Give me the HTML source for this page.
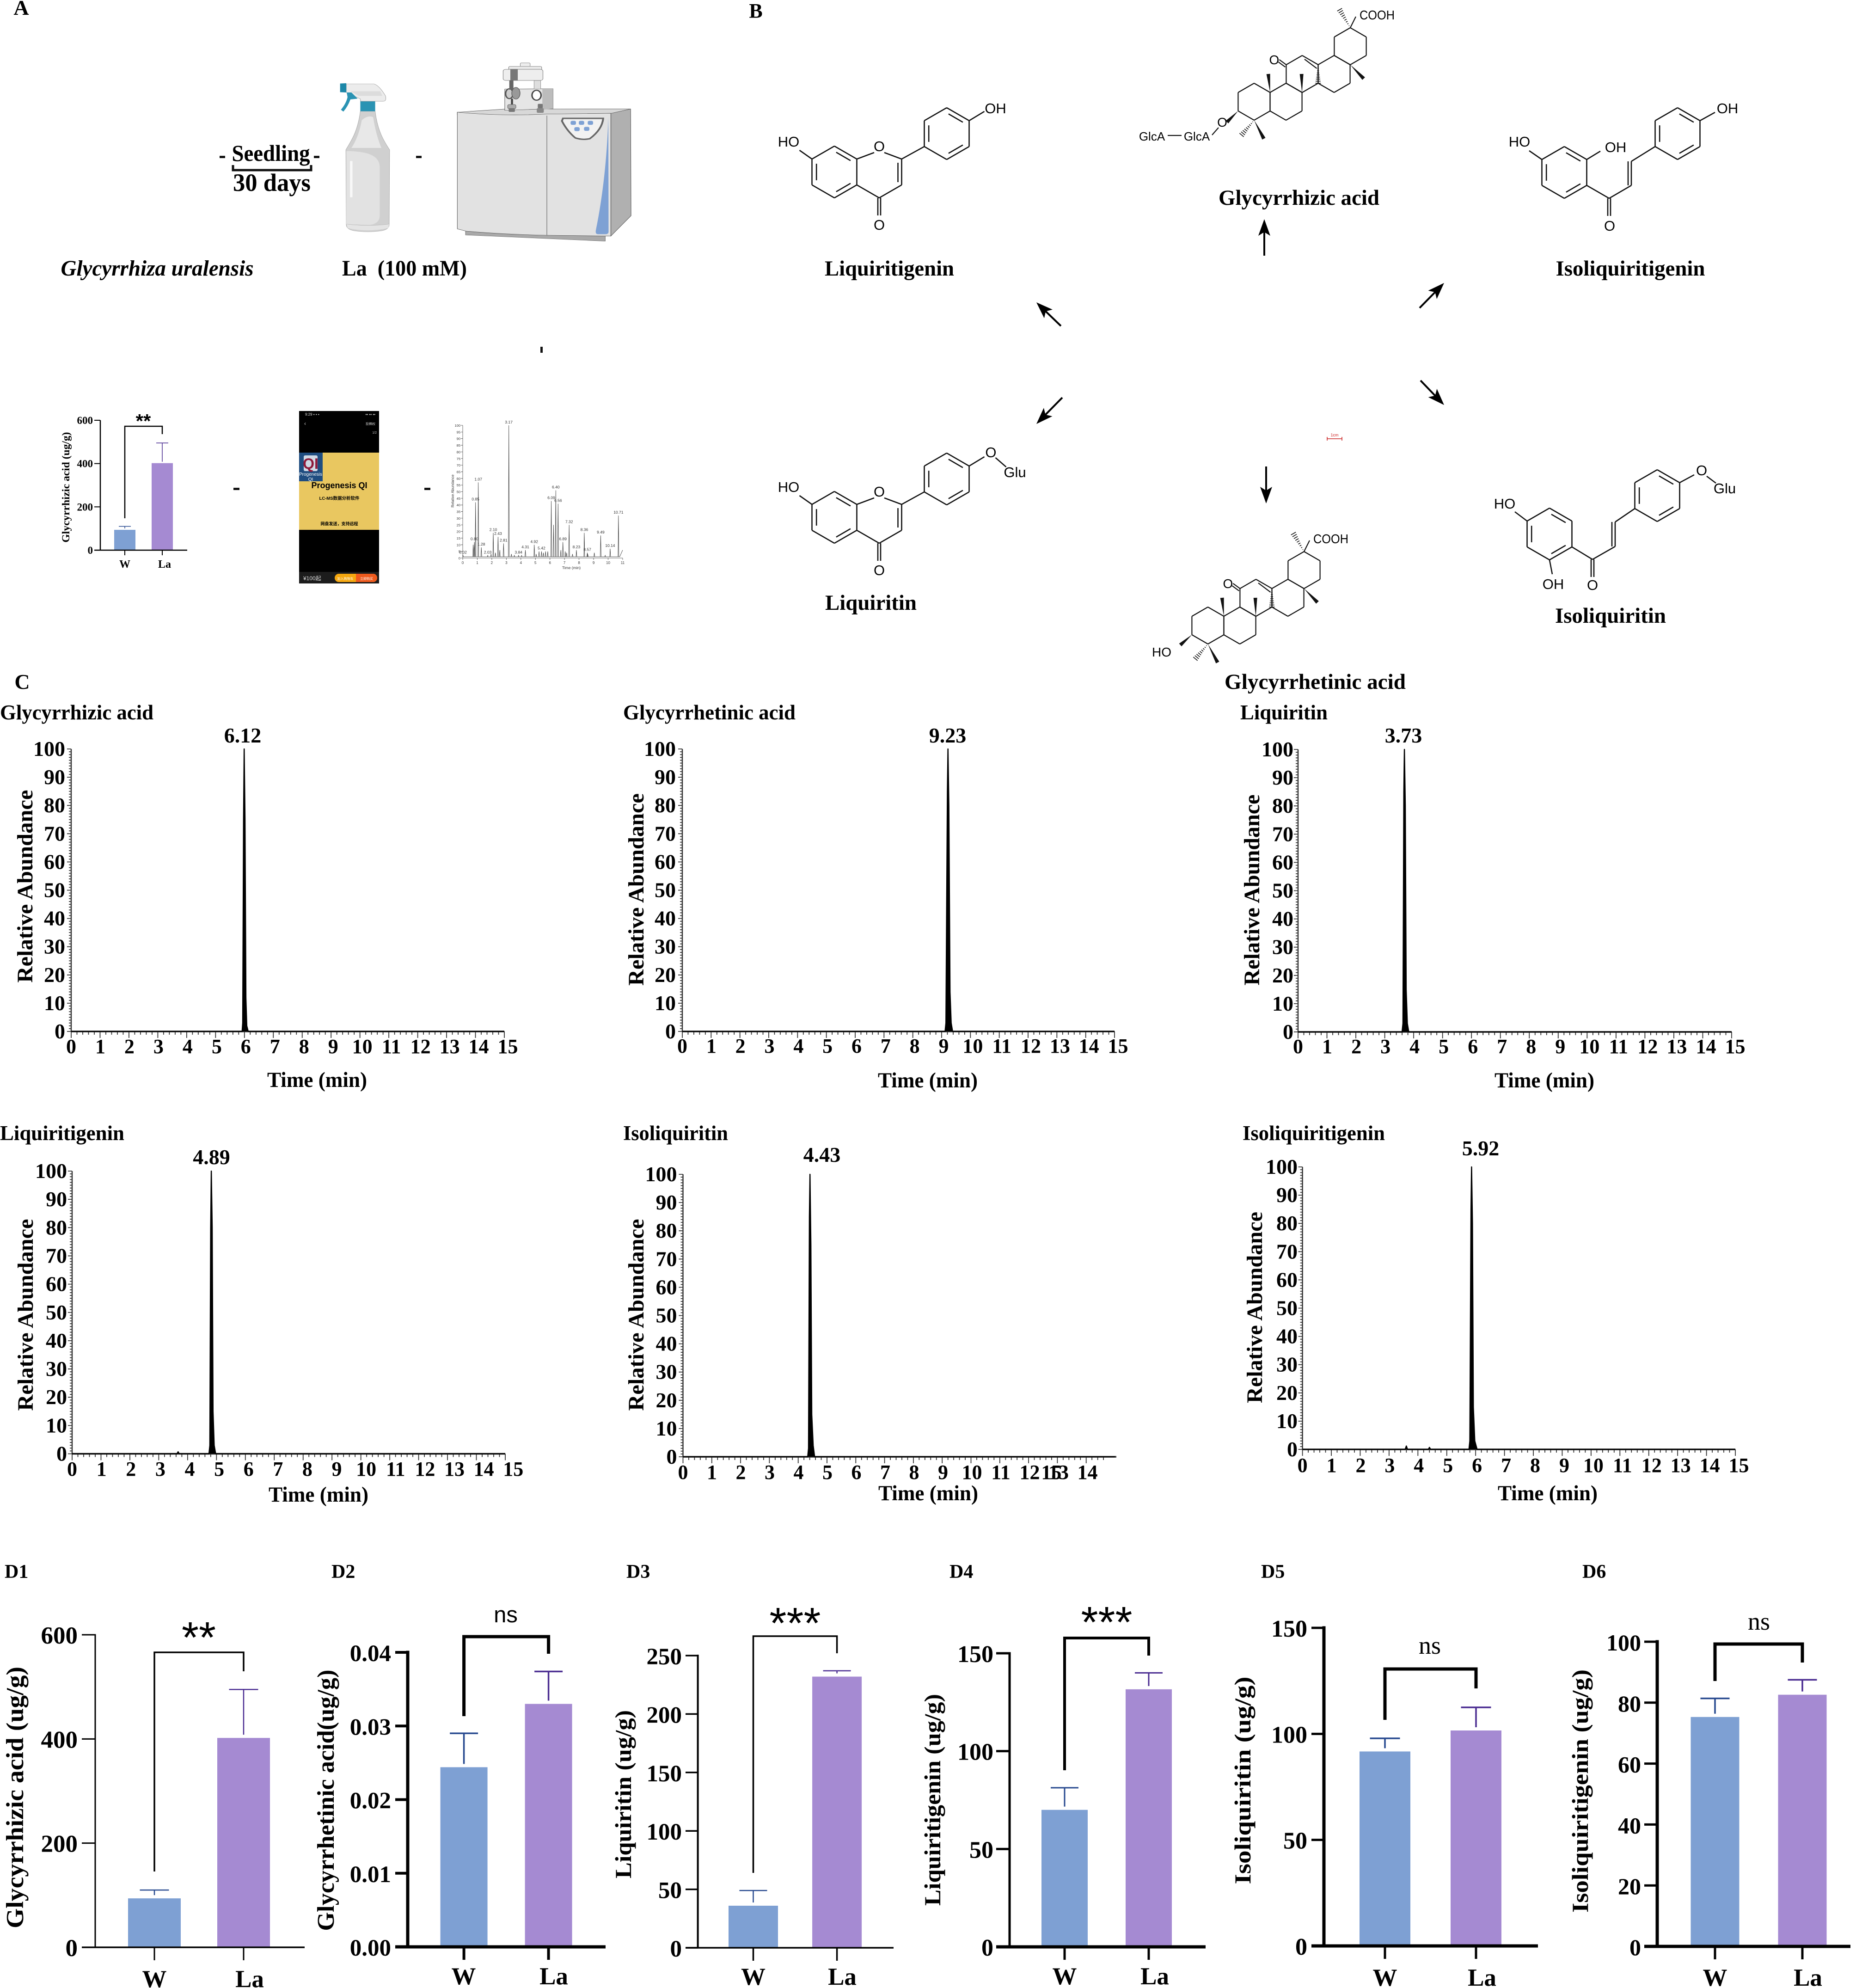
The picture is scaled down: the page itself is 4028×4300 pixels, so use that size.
<!DOCTYPE html>
<html lang="en">
<head>
<meta charset="utf-8">
<title>Glycyrrhiza uralensis figure</title>
<style>
html,body{margin:0;padding:0;background:#fff;}
svg{display:block;}
text{font-family:"Liberation Serif","Noto Serif CJK SC",serif;fill:#000;}
.sans{font-family:"Liberation Sans","Noto Sans CJK SC",sans-serif;}
</style>
</head>
<body>
<svg id="fig" xmlns="http://www.w3.org/2000/svg" width="4028" height="4300" viewBox="0 0 4028 4300">
<rect width="4028" height="4300" fill="#fff"/>

<g transform="translate(700,120) scale(.4464,.3333)">
  <path d="M108 612 C130 560 165 500 178 362 L250 362 C262 500 300 570 320 612 L318 1100 Q316 1130 280 1138 Q215 1150 150 1138 Q112 1130 110 1100 Z" fill="#d0d0d0" stroke="#a8a8a8" stroke-width="2"/>
  <path d="M135 600 C165 540 178 470 185 420 Q215 385 240 400 C250 480 262 540 280 600 Z" fill="#e8e8e8"/>
  <path d="M110 620 C200 622 268 640 272 720 L272 1040 Q272 1090 225 1100 L110 1095 Z" fill="#e2e2e2"/>
  <rect x="128" y="685" width="12" height="235" fill="#f8f8f8"/>
  <path d="M112 1095 Q215 1112 318 1095" fill="none" stroke="#aaa" stroke-width="3"/>
  <path d="M112 1095 Q215 1112 318 1095 L314 1120 Q215 1150 116 1120 Z" fill="#e4e4e4"/>
  <rect x="178" y="292" width="72" height="70" fill="#2a93b3"/>
  <path d="M110 185 L245 185 Q270 195 300 262 Q306 296 290 297 L180 297 L178 282 L110 240 Z" fill="#ececec" stroke="#999" stroke-width="2"/>
  <path d="M130 232 L275 232 L285 262 L170 262 Z" fill="#dcdcdc"/>
  <path d="M80 182 L110 180 L110 240 L80 238 Z" fill="#1c87a8"/>
  <path d="M112 240 L135 240 L165 280 L130 285 Q118 330 96 364 L84 352 Q110 310 116 270 Z" fill="#2a93b3"/>
</g>
<rect x="900" y="337" width="12" height="5" fill="#111"/>

<g transform="translate(700,120) scale(.4464,.3333)">
  <path d="M688 1140 L1365 1170 L1365 1205 L688 1165 Z" fill="#a9a9a9" stroke="#666" stroke-width="2"/>
  <path d="M1392 375 L1488 347 L1490 1040 L1392 1172 Z" fill="#b0b0b0" stroke="#444" stroke-width="2"/>
  <path d="M648 368 L875 348 L1488 347 L1392 376 L1080 385 L648 385 Z" fill="#d8d8d8" stroke="#444" stroke-width="2"/>
  <path d="M648 368 Q860 395 1082 380 L1392 375 L1392 1172 L1082 1167 Q860 1160 690 1140 L648 1125 Z" fill="#e2e2e2" stroke="#444" stroke-width="2"/>
  <line x1="1082" y1="390" x2="1082" y2="1167" stroke="#777" stroke-width="3"/>
  <path d="M1380 400 L1381 1145 Q1380 1160 1365 1160 L1330 1160 Q1315 1160 1320 1130 Q1370 800 1380 400 Z" fill="#7ea1d4"/>
  <path d="M1160 408 L1355 408 Q1350 480 1290 540 Q1255 550 1220 535 Q1180 490 1155 425 Z" fill="#f2f2f2" stroke="#666" stroke-width="9"/>
  <g fill="#7ea1d4"><rect x="1197" y="424" width="26" height="26" rx="8"/><rect x="1237" y="424" width="26" height="26" rx="8"/><rect x="1280" y="424" width="26" height="26" rx="8"/><rect x="1215" y="465" width="26" height="26" rx="8"/><rect x="1262" y="463" width="26" height="26" rx="8"/></g>
  <path d="M878 218 L1060 216 L1112 216 L1112 345 L878 356 Z" fill="#e6e6e6" stroke="#444" stroke-width="2"/>
  <path d="M1060 216 L1112 216 L1112 345 L1060 352 Z" fill="#bcbcbc"/>
  <rect x="1020" y="162" width="32" height="55" fill="#dedede" stroke="#888" stroke-width="2"/>
  <ellipse cx="1032" cy="258" rx="22" ry="32" fill="#fff" stroke="#444" stroke-width="7"/>
  <ellipse cx="900" cy="248" rx="18" ry="32" fill="#ccc" stroke="#555" stroke-width="7"/>
  <ellipse cx="932" cy="245" rx="20" ry="38" fill="#999" stroke="#555" stroke-width="3"/>
  <rect x="953" y="48" width="48" height="24" rx="6" fill="#eee" stroke="#777" stroke-width="2"/>
  <rect x="897" y="70" width="160" height="32" rx="8" fill="#e8e8e8" stroke="#666" stroke-width="2"/>
  <rect x="870" y="90" width="193" height="72" rx="12" fill="#eee" stroke="#666" stroke-width="2"/>
  <rect x="905" y="88" width="36" height="74" fill="#777"/>
  <rect x="900" y="162" width="20" height="60" fill="#666"/>
  <rect x="908" y="280" width="10" height="40" fill="#444"/>
  <rect x="892" y="318" width="40" height="28" rx="8" fill="#aaa" stroke="#555" stroke-width="2"/>
  <rect x="897" y="342" width="30" height="24" rx="5" fill="#777"/>
  <rect x="1038" y="314" width="24" height="28" rx="5" fill="#777"/>
  <rect x="1033" y="342" width="34" height="30" rx="6" fill="#888"/>
</g>

<g>
  <rect x="647" y="889" width="173" height="373" fill="#000"/>
  <rect x="647" y="979" width="173" height="167" fill="#e9c760"/>
  <rect x="647" y="979" width="51" height="62" fill="#1f4d80"/>
  <rect x="657" y="985" width="30" height="34" rx="3" fill="#cfd9e5"/>
  <text x="672" y="1014" font-size="32" text-anchor="middle" font-weight="bold" style="fill:#8e1a3a" class="sans">QI</text>
  <text x="672" y="1029" font-size="10" text-anchor="middle" style="fill:#fff" class="sans">Progenesis</text>
  <text x="672" y="1040" font-size="10" text-anchor="middle" style="fill:#fff" class="sans">QI</text>
  <text x="734" y="1056" font-size="18" text-anchor="middle" font-weight="bold" class="sans">Progenesis QI</text>
  <text x="734" y="1081" font-size="9.5" text-anchor="middle" font-weight="bold" class="sans">LC-MS数据分析软件</text>
  <text x="734" y="1136" font-size="9" text-anchor="middle" font-weight="bold" class="sans">网盘发送，支持远程</text>
  <text x="660" y="899" font-size="8" style="fill:#ddd" class="sans">9:29 ▪ ▪ ▪</text>
  <text x="812" y="899" font-size="8" text-anchor="end" style="fill:#ddd" class="sans">▪▪ ▪▪ ▪▪</text>
  <text x="812" y="919" font-size="7" text-anchor="end" style="fill:#ccc" class="sans">投稿权</text>
  <text x="658" y="920" font-size="12" style="fill:#ccc" class="sans">‹</text>
  <text x="815" y="938" font-size="7" text-anchor="end" style="fill:#ccc" class="sans">1/2</text>
  <rect x="647" y="1237" width="173" height="25" fill="#1c1c1c"/>
  <text x="656" y="1255" font-size="12" style="fill:#ddd" class="sans">¥100起</text>
  <rect x="724" y="1241" width="92" height="18" rx="9" fill="#f5a70f"/>
  <path d="M770 1241 L807 1241 A9 9 0 0 1 807 1259 L770 1259 Z" fill="#ee5a1d"/>
  <text x="747" y="1254" font-size="7" text-anchor="middle" style="fill:#fff" class="sans">加入购物车</text>
  <text x="793" y="1254" font-size="7" text-anchor="middle" style="fill:#fff" class="sans">立即购买</text>
</g>

<g fill="#111">
  <rect x="475" y="337" width="12" height="5"/><rect x="679" y="337" width="12" height="5"/>
  <rect x="1169" y="750" width="5" height="13"/>
  <rect x="505" y="1055" width="13" height="5"/><rect x="918" y="1055" width="13" height="5"/>
</g>
<path d="M504 357 L504 368 L673 368 L673 357" fill="none" stroke="#111" stroke-width="5"/>

<text x="46" y="32" font-size="46" font-weight="bold" text-anchor="middle">A</text>
<text x="1635" y="38" font-size="44" font-weight="bold" text-anchor="middle">B</text>
<text x="48" y="1490" font-size="46" font-weight="bold" text-anchor="middle">C</text>
<text x="586" y="348" font-size="50" font-weight="bold" text-anchor="middle" textLength="169" lengthAdjust="spacingAndGlyphs">Seedling</text>
<text x="588" y="413" font-size="54" font-weight="bold" text-anchor="middle" textLength="168" lengthAdjust="spacingAndGlyphs">30 days</text>
<text x="340" y="596" font-size="48" font-weight="bold" font-style="italic" text-anchor="middle" textLength="417" lengthAdjust="spacingAndGlyphs">Glycyrrhiza uralensis</text>
<text x="875" y="596" font-size="48" font-weight="bold" text-anchor="middle" textLength="270" lengthAdjust="spacingAndGlyphs">La&#160;&#160;(100 mM)</text>

<g id="structures"></g>
<g id="charts"></g>
</svg>

<script>
// ---- Chromatogram data (panel C) ----
const chromXLabels = ['0','1','2','3','4','5','6','7','8','9','10','11','12','13','14','15'];
const chromXValues = [0,1,2,3,4,5,6,7,8,9,10,11,12,13,14,15];
const chromYTicks = [0,10,20,30,40,50,60,70,80,90,100];
const c5XValues = [0,1,2,3,4,5,6,7,8,9,10,11,12,13,14,12.75];

const c1Times = [0,5.92,5.94,5.97,5.99,6.02,6.05,6.08,6.13,15];
const c1Abundance = [0,0,3,75,100,75,12,2,0,0];
const c2Times = [0,9.12,9.15,9.2,9.22,9.25,9.29,9.33,9.38,15];
const c2Abundance = [0,0,3,85,100,80,14,3,0,0];
const c3Times = [0,3.6,3.63,3.66,3.68,3.71,3.74,3.78,3.83,15];
const c3Abundance = [0,0,3,85,100,80,15,3,0,0];
const c4Times = [0,3.63,3.67,3.71,4.74,4.77,4.8,4.82,4.85,4.88,4.92,4.97,15];
const c4Abundance = [0,0,0.7,0,0,3,80,100,80,15,3,0,0];
const c5Times = [0,4.33,4.36,4.39,4.41,4.44,4.47,4.52,4.57,15];
const c5Abundance = [0,0,3,85,100,75,15,4,0,0];
const c6Times = [0,3.56,3.6,3.64,4.36,4.4,4.44,5.77,5.8,5.84,5.86,5.89,5.92,5.97,6.05,15];
const c6Abundance = [0,0,1.2,0,0,0.7,0,0,3,85,100,80,15,3,0,0];

// ---- Bar chart data (panel D) ----
const barCategories = ['W','La'];
const d1Means = [94,402];
const d1Upper = [110,495];
const d1Ticks = [0,200,400,600];
const d1TickLabels = ['0','200','400','600'];
const d2Means = [0.0244,0.0330];
const d2Upper = [0.0290,0.0374];
const d2Ticks = [0,0.01,0.02,0.03,0.04];
const d2TickLabels = ['0.00','0.01','0.02','0.03','0.04'];
const d3Means = [36,232];
const d3Upper = [49,237];
const d3Ticks = [0,50,100,150,200,250];
const d3TickLabels = ['0','50','100','150','200','250'];
const d4Means = [70,131.6];
const d4Upper = [81.3,140];
const d4Ticks = [0,50,100,150];
const d4TickLabels = ['0','50','100','150'];
const d5Means = [91.7,101.6];
const d5Upper = [97.9,112.5];
const d5Ticks = [0,50,100,150];
const d5TickLabels = ['0','50','100','150'];
const d6Means = [75.3,82.6];
const d6Upper = [81.4,87.5];
const d6Ticks = [0,20,40,60,80,100];
const d6TickLabels = ['0','20','40','60','80','100'];

// ---- Mini chromatogram data (panel A) ----
const miniLabels = ['0.02','0.80','0.85','1.07','1.28','2.03','2.10','2.43','2.81','3.17','3.84','4.31','4.92','5.42','6.09','6.40','6.56','6.89','7.32','8.23','8.36','8.57','9.49','10.14','10.71'];
const miniTimes = [0.02,0.80,0.88,1.07,1.28,1.72,2.10,2.43,2.81,3.17,3.84,4.31,4.92,5.42,6.09,6.40,6.56,6.89,7.32,7.82,8.36,8.57,9.49,10.14,10.71];
const miniHeights = [2,12,42,57,8,2,19,16,11,100,2,6,10,5,43,51,41,12,25,6,19,4,17,7,32];
const miniSmallTimes = [0.72,1.95,2.25,2.55,3.35,3.55,4.05,5.05,5.25,5.55,5.7,5.85,6.25,6.75,7.05,7.15,7.55,8.6,9.05,9.8];
const miniSmallHeights = [10,3,4,6,3,2,2,3,5,4,5,5,25,6,5,4,3,3,4,2];
const miniYTicks = [0,5,10,15,20,25,30,35,40,45,50,55,60,65,70,75,80,85,90,95,100];
const miniXTicks = [0,1,2,3,4,5,6,7,8,9,10,11];

const NS = 'http://www.w3.org/2000/svg';
const chartsRoot = document.getElementById('charts');
const structRoot = document.getElementById('structures');

function mk(tag, name, attrs, parent) {
  const el = document.createElementNS(NS, tag);
  
  
  for (const k in attrs) el.setAttribute(k, attrs[k]);
  parent.appendChild(el);
  return el;
}
function txt(name, str, x, y, fs, parent, o) {
  o = o || {};
  const a = {x: x, y: y, 'font-size': fs, 'text-anchor': o.anchor || 'middle'};
  a['font-weight'] = o.weight || 'bold';
  if (o.sans) a['class'] = 'sans';
  if (o.tl) { a.textLength = o.tl; a.lengthAdjust = 'spacingAndGlyphs'; }
  if (o.rot) a.transform = 'rotate(' + o.rot + ' ' + x + ' ' + y + ')';
  if (o.fill) a.style = 'fill:' + o.fill;
  const t = mk('text', name, a, parent);
  t.textContent = str;
  return t;
}
function pth(name, d, w, parent, color, fill) {
  return mk('path', name, {d: d, fill: fill || 'none', stroke: color || '#111', 'stroke-width': w}, parent);
}

// ---- Panel C ----
function chromatogram(c) {
  const g = mk('g', 'chromatogram-' + c.id, {}, chartsRoot);
  const X = t => c.x0 + (c.x15 - c.x0) * t / 15;
  const Y = v => c.y0 + (c.y100 - c.y0) * v / 100;
  let ticks = '';
  const end = c.tickEnd === undefined ? 15 : c.tickEnd;
  for (let i = 0; i <= Math.round(end * 5); i++) {
    const t = i / 5;
    ticks += 'M' + X(t) + ' ' + c.y0 + 'V' + (c.y0 + (i % 5 === 0 ? 14 : 7));
  }
  for (let v = 0; v <= 100; v++) {
    ticks += 'M' + c.x0 + ' ' + Y(v) + 'H' + (c.x0 - (v % 10 === 0 ? 9 : 5));
  }
  pth('axis-ticks', ticks, 1.8, g, '#333');
  pth('y-axis', 'M' + c.x0 + ' ' + c.y100 + 'V' + c.y0, 2.5, g, '#333');
  pth('x-axis', 'M' + c.x0 + ' ' + c.y0 + 'H' + (c.axisEnd || c.x15), 3.5, g, '#333');
  const pts = c.times.map((t, i) => X(t).toFixed(1) + ',' + Y(c.abundance[i]).toFixed(1)).join(' ');
  mk('polyline', 'peak-trace', {points: pts, fill: '#000', stroke: '#000', 'stroke-width': 2.5, 'stroke-linejoin': 'round'}, g);
  chromYTicks.forEach(v => {
    txt('y-tick-label', String(v), c.yLabelRight, Y(v) + 15, 46, g, {anchor: 'end'});
  });
  c.xValues.forEach((t, i) => {
    txt('x-tick-label', chromXLabels[i], X(t) + t * c.drift, c.xLabelBase, 44, g);
  });
  txt('peak-label', c.peak, c.peakX, c.peakBase, 46, g);
  txt('chart-title', c.title, c.titleX, c.titleBase, 45, g, {anchor: 'start', tl: c.titleW});
  txt('x-axis-title', 'Time (min)', c.timeX, c.timeBase, 47, g, {tl: 216});
  txt('y-axis-title', 'Relative Abundance', c.yTitleX + 19, c.yTitleY, 48, g, {rot: -90, tl: c.yTitleW});
}
chromatogram({id:'glycyrrhizic-acid',title:'Glycyrrhizic acid',peak:'6.12',times:c1Times,abundance:c1Abundance,xValues:chromXValues,x0:154,x15:1091,y100:1620,y0:2231,drift:.5,xLabelBase:2278,peakX:525,peakBase:1606,titleX:0,titleBase:1556,titleW:332,timeX:686,timeBase:2351,yLabelRight:141,yTitleX:51,yTitleY:1917,yTitleW:417});
chromatogram({id:'glycyrrhetinic-acid',title:'Glycyrrhetinic acid',peak:'9.23',times:c2Times,abundance:c2Abundance,xValues:chromXValues,x0:1476,x15:2411,y100:1620,y0:2231,drift:.5,xLabelBase:2277,peakX:2050,peakBase:1606,titleX:1348,titleBase:1556,titleW:373,timeX:2007,timeBase:2352,yLabelRight:1462,yTitleX:1373,yTitleY:1924,yTitleW:416});
chromatogram({id:'liquiritin',title:'Liquiritin',peak:'3.73',times:c3Times,abundance:c3Abundance,xValues:chromXValues,x0:2808,x15:3746,y100:1621,y0:2232,drift:.5,xLabelBase:2278,peakX:3036,peakBase:1606,titleX:2683,titleBase:1556,titleW:189,timeX:3341,timeBase:2352,yLabelRight:2798,yTitleX:2705,yTitleY:1925,yTitleW:413});
chromatogram({id:'liquiritigenin',title:'Liquiritigenin',peak:'4.89',times:c4Times,abundance:c4Abundance,xValues:chromXValues,x0:156,x15:1093,y100:2533,y0:3144.5,drift:1.15,xLabelBase:3192,peakX:457.5,peakBase:2518,titleX:0,titleBase:2466,titleW:269,timeX:689,timeBase:3248,yLabelRight:145,yTitleX:52,yTitleY:2844,yTitleW:415});
chromatogram({id:'isoliquiritin',title:'Isoliquiritin',peak:'4.43',times:c5Times,abundance:c5Abundance,xValues:c5XValues,x0:1477.5,x15:2412,tickEnd:14.5,axisEnd:2415,y100:2540,y0:3151,drift:.2,xLabelBase:3199,peakX:1778,peakBase:2513,titleX:1348,titleBase:2466,titleW:227,timeX:2008,timeBase:3245,yLabelRight:1464.5,yTitleX:1373,yTitleY:2844,yTitleW:415});
chromatogram({id:'isoliquiritigenin',title:'Isoliquiritigenin',peak:'5.92',times:c6Times,abundance:c6Abundance,xValues:chromXValues,x0:2817.6,x15:3754,y100:2524,y0:3135,drift:.5,xLabelBase:3184,peakX:3203,peakBase:2499,titleX:2688,titleBase:2466,titleW:308,timeX:3348,timeBase:3245,yLabelRight:2807,yTitleX:2711,yTitleY:2828,yTitleW:414});

// ---- Panel D ----
function barChart(c) {
  const g = mk('g', 'bar-chart-' + c.id, {}, chartsRoot);
  const Y = v => c.y0 + (c.yTop - c.y0) * v / c.ticks[c.ticks.length - 1];
  const X = i => c.cx[0] + (c.cx[1] - c.cx[0]) * i;
  const colors = ['#7ea0d3', '#a58ad2'];
  const errCol = ['#27498f', '#4a2c91'];
  barCategories.forEach((cat, i) => {
    const top = Y(c.means[i]);
    mk('rect', 'bar-' + cat.toLowerCase(), {x: X(i) - c.barW / 2, y: top, width: c.barW, height: c.y0 - top, fill: colors[i]}, g);
    const capY = Y(c.upper[i]);
    pth('error-bar-' + cat.toLowerCase(), 'M' + (X(i) - c.capW / 2) + ' ' + capY + 'H' + (X(i) + c.capW / 2) + 'M' + X(i) + ' ' + capY + 'V' + Math.max(capY, top - 7), c.errW, g, errCol[i]);
    pth('x-tick', 'M' + X(i) + ' ' + c.y0 + 'V' + (c.y0 + 28), c.tickW, g, '#000');
    txt('x-tick-label', cat, c.xLabelX[i], c.xLabelBase, c.xLabelFs || 53, g);
  });
  pth('y-axis', 'M' + c.axisX + ' ' + (c.yTop - c.axisW / 2) + 'V' + c.y0, c.axisW, g, '#000');
  pth('x-axis', 'M' + c.tickLeft + ' ' + c.y0 + 'H' + c.right, c.xAxisW, g, '#000');
  c.ticks.forEach((v, i) => {
    pth('y-tick', 'M' + c.tickLeft + ' ' + Y(v) + 'H' + c.axisX, c.tickW, g, '#000');
    txt('y-tick-label', c.tickLabels[i], c.labelRight, Y(v) + 19, c.labelFs, g, {anchor: 'end'});
  });
  pth('significance-bracket', 'M' + c.br[0] + ' ' + c.br[3] + 'V' + c.br[2] + 'H' + c.br[1] + 'V' + c.br[4], c.brW, g, '#000');
  if (c.stars) {
    txt('significance-stars', c.stars, c.sigX, c.sigY + 45, 95, g, {sans: true, weight: 'normal'});
  } else {
    txt('significance-ns', 'ns', c.sigX, c.sigY, c.nsFs || 49, g, {sans: c.nsSans, weight: 'normal'});
  }
  txt('y-axis-title', c.yTitle, c.titleX + 19, c.titleY, c.titleFs || 52, g, {rot: -90, tl: c.titleL});
  txt('panel-label', c.panel, c.panelX, 3413, 42, g, {anchor: 'start'});
}
barChart({id:'d1',panel:'D1',panelX:10,means:d1Means,upper:d1Upper,ticks:d1Ticks,tickLabels:d1TickLabels,y0:4212,yTop:3536,axisX:206,right:659,tickLeft:177,cx:[334,527],barW:114,capW:63,errW:2.5,tickW:3,axisW:3,xAxisW:3.5,labelRight:168,labelFs:53,br:[334,527,3574,4048,3615],brW:3.5,stars:'**',sigX:430,sigY:3529,yTitle:'Glycyrrhizic acid (ug/g)',titleX:31,titleY:3888,titleL:566,titleFs:53,xLabelX:[334,540],xLabelBase:4298});
barChart({id:'d2',panel:'D2',panelX:717,means:d2Means,upper:d2Upper,ticks:d2Ticks,tickLabels:d2TickLabels,y0:4211,yTop:3574,axisX:882,right:1310,tickLeft:855,cx:[1003.6,1186.6],barW:102,capW:61,errW:3.5,tickW:6,axisW:7,xAxisW:7,labelRight:846,labelFs:51,br:[1003.6,1186.6,3540,3712,3577],brW:7,nsSans:true,sigX:1094,sigY:3509,yTitle:'Glycyrrhetinic acid(ug/g)',titleX:703,titleY:3894,titleL:565,xLabelX:[1003,1198],xLabelBase:4292});
barChart({id:'d3',panel:'D3',panelX:1355,means:d3Means,upper:d3Upper,ticks:d3Ticks,tickLabels:d3TickLabels,y0:4213,yTop:3581,axisX:1509.6,right:1933,tickLeft:1483,cx:[1629.5,1810.6],barW:107,capW:60,errW:2.5,tickW:3.5,axisW:4,xAxisW:3.5,labelRight:1475,labelFs:51,br:[1629.5,1810.6,3539,4051,3576],brW:3.5,stars:'***',sigX:1720,sigY:3498,yTitle:'Liquiritin (ug/g)',titleX:1346,titleY:3881,titleL:364,titleFs:50,xLabelX:[1629.5,1822],xLabelBase:4293});
barChart({id:'d4',panel:'D4',panelX:2054,means:d4Means,upper:d4Upper,ticks:d4Ticks,tickLabels:d4TickLabels,y0:4211,yTop:3576,axisX:2184,right:2608,tickLeft:2155,cx:[2303,2485],barW:100,capW:60,errW:3,tickW:5,axisW:5,xAxisW:7,labelRight:2149,labelFs:52,br:[2303,2485,3543,3829,3581],brW:6,stars:'***',sigX:2394,sigY:3496,yTitle:'Liquiritigenin (ug/g)',titleX:2015,titleY:3893,titleL:458,titleFs:50,xLabelX:[2303,2498],xLabelBase:4292});
barChart({id:'d5',panel:'D5',panelX:2728,means:d5Means,upper:d5Upper,ticks:d5Ticks,tickLabels:d5TickLabels,y0:4209,yTop:3521,axisX:2864,right:3327,tickLeft:2837,cx:[2996,3193],barW:110,capW:65,errW:3.5,tickW:5,axisW:7,xAxisW:7,labelRight:2828,labelFs:52,br:[2996,3193,3610,3720,3652],brW:7,nsFs:54,sigX:3093,sigY:3577,yTitle:'Isoliquiritin (ug/g)',titleX:2686,titleY:3851,titleL:449,titleFs:50,xLabelX:[2996,3206],xLabelBase:4295});
barChart({id:'d6',panel:'D6',panelX:3423,means:d6Means,upper:d6Upper,ticks:d6Ticks,tickLabels:d6TickLabels,y0:4210,yTop:3551,axisX:3585,right:4003,tickLeft:3557,cx:[3710,3899],barW:105,capW:63,errW:3.5,tickW:5,axisW:7,xAxisW:7,labelRight:3550,labelFs:50,br:[3710,3899,3556,3636,3596],brW:7,nsFs:54,sigX:3805,sigY:3525,yTitle:'Isoliquiritigenin (ug/g)',titleX:3416,titleY:3874,titleL:526,titleFs:50,xLabelX:[3710,3911],xLabelBase:4295});

// ---- Panel A mini bar chart ----
(function () {
  const g = mk('g', 'mini-bar-chart', {}, chartsRoot);
  const Y = v => 1190 + (909 - 1190) * v / 600;
  const cx = [270, 351];
  const colors = ['#7ea0d3', '#a58ad2'];
  const errCol = ['#27498f', '#4a2c91'];
  barCategories.forEach((cat, i) => {
    const top = Y(d1Means[i]);
    mk('rect', 'mini-bar-' + cat.toLowerCase(), {x: cx[i] - 23, y: top, width: 46, height: 1190 - top, fill: colors[i]}, g);
    pth('mini-error-bar', 'M' + (cx[i] - 13) + ' ' + Y(d1Upper[i]) + 'H' + (cx[i] + 13) + 'M' + cx[i] + ' ' + Y(d1Upper[i]) + 'V' + (top - 3), 1.5, g, errCol[i]);
    pth('mini-x-tick', 'M' + cx[i] + ' 1190V1201', 2, g, '#000');
  });
  txt('mini-x-label', 'W', 270, 1228, 24, g);
  txt('mini-x-label', 'La', 356, 1228, 24, g);
  pth('mini-y-axis', 'M217 909V1190', 2.5, g, '#000');
  pth('mini-x-axis', 'M204 1190H405', 2.5, g, '#000');
  d1Ticks.forEach((v, i) => {
    pth('mini-y-tick', 'M204 ' + Y(v) + 'H217', 2, g, '#000');
    txt('mini-y-label', d1TickLabels[i], 201, Y(v) + 8, 23, g, {anchor: 'end'});
  });
  pth('mini-bracket', 'M270 1121V922H351V939', 2.5, g, '#000');
  txt('mini-stars', '**', 310, 925, 42, g, {sans: true});
  txt('mini-y-title', 'Glycyrrhizic acid (ug/g)', 150, 1054, 23, g, {rot: -90, tl: 239});
})();

// ---- Panel A mini chromatogram ----
(function () {
  const g = mk('g', 'mini-chromatogram', {}, chartsRoot);
  const X = t => 1001 + t * 31.45;
  const Y = v => 1207 - v * 2.87;
  const peak = (t, h) => 'M' + X(t - 0.03) + ' ' + Y(1) + 'L' + X(t) + ' ' + Y(h) + 'L' + X(t + 0.03) + ' ' + Y(1);
  let d = 'M' + X(0) + ' ' + Y(1) + 'H' + X(10.8) + 'L' + X(11) + ' ' + Y(6);
  miniTimes.forEach((t, i) => { d += peak(t, miniHeights[i]); });
  miniSmallTimes.forEach((t, i) => { d += peak(t, miniSmallHeights[i]); });
  pth('mini-trace', d, 0.8, g, '#333');
  let ax = 'M' + X(0) + ' ' + Y(100) + 'V' + Y(0) + 'H' + X(11);
  miniYTicks.forEach(v => { ax += 'M' + X(0) + ' ' + Y(v) + 'h-4'; });
  miniXTicks.forEach(t => { ax += 'M' + X(t) + ' ' + Y(0) + 'v4'; });
  pth('mini-axes', ax, 0.8, g, '#444');
  miniYTicks.forEach(v => { txt('mini-y-label', String(v), X(0) - 5, Y(v) + 3, 7.5, g, {anchor: 'end', sans: true, weight: 'normal', fill: '#333'}); });
  miniXTicks.forEach(t => { txt('mini-x-label', String(t), X(t), Y(0) + 13, 8, g, {sans: true, weight: 'normal', fill: '#333'}); });
  miniLabels.forEach((l, i) => {
    txt('mini-peak-label', l, X(miniTimes[i]), Y(miniHeights[i]) - 4, 8.5, g, {sans: true, weight: 'normal', fill: '#333'});
  });
  txt('mini-y-title', 'Relative Abundance', 982, 1062, 8, g, {rot: -90, sans: true, weight: 'normal', fill: '#333'});
  txt('mini-x-title', 'Time (min)', 1236, 1231, 8.5, g, {sans: true, weight: 'normal', fill: '#333'});
})();

// ---- Panel B structures ----
function hexV(cx, cy, R) {
  const w = R * Math.sqrt(3) / 2;
  return {t:[cx,cy-R],ur:[cx+w,cy-R/2],lr:[cx+w,cy+R/2],b:[cx,cy+R],ll:[cx-w,cy+R/2],ul:[cx-w,cy-R/2],c:[cx,cy]};
}
function seg(a, b) { return 'M' + a[0].toFixed(1) + ' ' + a[1].toFixed(1) + 'L' + b[0].toFixed(1) + ' ' + b[1].toFixed(1); }
function inner(h, a, b) {
  const sh = (p, f) => [h.c[0] + (p[0] - h.c[0]) * f, h.c[1] + (p[1] - h.c[1]) * f];
  const A = sh(a, .8), B = sh(b, .8);
  const mA = [A[0] + (B[0] - A[0]) * .1, A[1] + (B[1] - A[1]) * .1];
  const mB = [B[0] + (A[0] - B[0]) * .1, B[1] + (A[1] - B[1]) * .1];
  return seg(mA, mB);
}
function ring(h) { return seg(h.t,h.ur)+seg(h.ur,h.lr)+seg(h.lr,h.b)+seg(h.b,h.ll)+seg(h.ll,h.ul)+seg(h.ul,h.t); }
function aromatic(h) { return ring(h)+inner(h,h.ul,h.ll)+inner(h,h.t,h.ur)+inner(h,h.lr,h.b); }
function atom(s, x, y, g, fs) { txt('atom-label', s, x, y + 11, fs || 31, g, {sans: true, weight: 'normal'}); }
function dbl(a, b, ox, oy) { return seg(a,b)+seg([a[0]+ox,a[1]+oy],[b[0]+ox,b[1]+oy]); }

function flavone(name, cx, cy, glu) {
  const g = mk('g', 'structure-' + name, {}, structRoot);
  const A = hexV(cx, cy, 56), w = 48.5;
  const B = hexV(cx + 2 * w, cy, 56), P = hexV(cx + 243, cy - 83, 56);
  let d = aromatic(A) + aromatic(P);
  d += seg([B.t[0]+11,B.t[1]+14],B.ur)+seg(B.ur,B.lr)+seg(B.lr,B.b)+seg(B.b,B.ll)+seg([B.t[0]-11,B.t[1]+14],B.ul);
  d += seg([B.ur[0]-8,B.ur[1]+8],[B.lr[0]-8,B.lr[1]-6]);
  d += seg(B.ur,P.ll)+seg(A.ul,[A.ul[0]-27,A.ul[1]-19]);
  d += seg([B.b[0]-3,B.b[1]],[B.b[0]-3,B.b[1]+38])+seg([B.b[0]+3,B.b[1]],[B.b[0]+3,B.b[1]+38]);
  d += seg(P.ur,[P.ur[0]+33,P.ur[1]-20]);
  atom('HO', cx - 99, cy - 66, g);
  atom('O', B.t[0], B.t[1], g);
  atom('O', B.b[0], B.b[1] + 58, g);
  if (glu) {
    atom('O', P.ur[0] + 47, P.ur[1] - 30, g);
    d += seg([P.ur[0]+57,P.ur[1]-18],[P.ur[0]+80,P.ur[1]+2]);
    atom('Glu', P.ur[0] + 99, P.ur[1] + 13, g);
  } else {
    atom('OH', P.ur[0] + 57, P.ur[1] - 27, g);
  }
  pth('bonds', d, 2.6, g);
}
flavone('liquiritigenin', 1805, 372, false);
flavone('liquiritin', 1805, 1119, true);

(function () {
  const g = mk('g', 'structure-isoliquiritigenin', {}, structRoot);
  const A = hexV(3384, 373, 56), P = hexV(3629, 289, 56);
  let d = aromatic(A) + aromatic(P);
  d += seg(A.lr,[3481,429]) + dbl([3478,429],[3478,467],6,0) + seg([3481,429],[3529,401]);
  d += dbl([3529,401],[3529,349],-7,0) + seg([3529,349],P.ll);
  d += seg(A.ul,[3308,326]) + seg(A.ur,[3462,327]) + seg(P.ur,[3710,243]);
  atom('HO',3287,306,g); atom('OH',3495,318,g); atom('O',3482,488,g); atom('OH',3737,234,g);
  pth('bonds', d, 2.6, g);
})();
(function () {
  const g = mk('g', 'structure-isoliquiritin', {}, structRoot);
  const A = hexV(3352, 1155, 56), P = hexV(3585, 1072, 56);
  let d = aromatic(A) + aromatic(P);
  d += seg(A.lr,[3445,1210]) + dbl([3442,1210],[3442,1248],6,0) + seg([3445,1210],[3494,1182]);
  d += dbl([3494,1182],[3494,1129],-7,0) + seg([3494,1129],P.ll);
  d += seg(A.ul,[3277,1107]) + seg(A.b,[3358,1242]) + seg(P.ur,[3665,1027]) + seg([3692,1030],[3712,1045]);
  atom('HO',3255,1089,g); atom('OH',3360,1263,g); atom('O',3445,1265,g); atom('O',3681,1017,g); atom('Glu',3731,1056,g);
  pth('bonds', d, 2.6, g);
})();

function terpene(name, dx, dy, glyco) {
  const g = mk('g', 'structure-' + name, {}, structRoot);
  const H = (x, y) => hexV(x + dx, y + dy, 40);
  const A = H(2713,220), B = H(2782,220), C = H(2817,160), D = H(2886,160), E = H(2921,100);
  let d = ring(A)+ring(B)+ring(C)+ring(D)+ring(E);
  d += seg([C.t[0]+5,C.t[1]+8],[C.ur[0]-3,C.ur[1]+8]);
  d += seg(C.ul,[C.ul[0]-15,C.ul[1]-11]) + seg([C.ul[0]-2,C.ul[1]+5],[C.ul[0]-17,C.ul[1]-6]);
  d += seg(E.t,[E.t[0]+12,E.t[1]-24]);
  pth('bonds', d, 2.2, g);
  const wedge = (a, b) => {
    const nx = -(b[1]-a[1]), ny = b[0]-a[0], L = Math.hypot(nx, ny);
    const ox = nx / L * 4, oy = ny / L * 4;
    mk('polygon', 'wedge-bond', {points: a[0]+','+a[1]+' '+(b[0]+ox)+','+(b[1]+oy)+' '+(b[0]-ox)+','+(b[1]-oy), fill:'#111'}, g);
  };
  const hatch = (a, b) => {
    let s = '';
    for (let i = 1; i <= 9; i++) {
      const f = i / 9, x = a[0]+(b[0]-a[0])*f, y = a[1]+(b[1]-a[1])*f;
      const nx = -(b[1]-a[1]), ny = b[0]-a[0], L = Math.hypot(nx, ny), r = 6 * f;
      s += seg([x-nx/L*r,y-ny/L*r],[x+nx/L*r,y+ny/L*r]);
    }
    pth('hatched-bond', s, 1.6, g);
  };
  wedge(E.b, [E.b[0]+29,E.b[1]+30]);
  wedge(A.ur, [A.ur[0]-4,A.ur[1]-40]);
  wedge(B.ur, [B.ur[0]-1,B.ur[1]-40]);
  hatch(D.ul, [D.ul[0],D.ul[1]+40]);
  hatch(E.t, [E.t[0]-23,E.t[1]-39]);
  wedge(A.b, [A.b[0]+21,A.b[1]+40]);
  hatch(A.b, [A.b[0]-27,A.b[1]+32]);
  txt('atom-label', 'COOH', E.t[0] + 58, E.t[1] - 18, 28, g, {sans: true, weight: 'normal', tl: 76});
  atom('O', C.ul[0] - 26, C.ul[1] - 12, g, 28);
  if (glyco) {
    wedge(A.ll, [A.ll[0]-24,A.ll[1]+24]);
    atom('O', 2644, 263, g, 28);
    pth('bonds-glycoside', seg([2636,276],[2622,292]) + seg([2526,293],[2556,293]), 2.2, g);
    atom('GlcA', 2492, 293, g, 26);
    atom('GlcA', 2589, 293, g, 26);
  } else {
    wedge(A.ll, [A.ll[0]-25,A.ll[1]+22]);
    atom('HO', 2513, 1409, g, 28);
  }
}
terpene('glycyrrhizic-acid', 0, 0, true);
terpene('glycyrrhetinic-acid', -100, 1133, false);

function arrow(name, x1, y1, x2, y2) {
  const g = mk('g', name, {}, structRoot);
  const L = Math.hypot(x2-x1, y2-y1), ux = (x2-x1)/L, uy = (y2-y1)/L, nx = -uy, ny = ux;
  pth('arrow-shaft', seg([x1,y1],[x2-ux*20,y2-uy*20]), 4, g, '#000');
  const p = [[x2,y2],[x2-ux*36+nx*13,y2-uy*36+ny*13],[x2-ux*28,y2-uy*28],[x2-ux*36-nx*13,y2-uy*36-ny*13]];
  mk('polygon', 'arrow-head', {points: p.map(q => q[0].toFixed(1)+','+q[1].toFixed(1)).join(' '), fill:'#000'}, g);
}
arrow('arrow-to-glycyrrhizic-acid',2735,553,2735,474);
arrow('arrow-to-liquiritigenin',2295,705,2242,654);
arrow('arrow-to-isoliquiritigenin',3071,666,3124,612);
arrow('arrow-to-liquiritin',2298,860,2242,917);
arrow('arrow-to-isoliquiritin',3073,823,3124,876);
arrow('arrow-to-glycyrrhetinic-acid',2739,1009,2739,1089);

[['Liquiritigenin',1924,596,280],['Isoliquiritigenin',3527,596,323],['Glycyrrhizic acid',2810,443,348],['Liquiritin',1884,1319,198],['Isoliquiritin',3484,1347,240],['Glycyrrhetinic acid',2845,1490,392]].forEach(a => {
  txt('compound-label', a[0], a[1], a[2], 47, structRoot, {tl: a[3]});
});
pth('scale-bar', 'M2871 949H2903M2871 945V953M2903 945V953', 1.5, structRoot, '#c22');
txt('scale-bar-label', '1cm', 2887, 944, 9, structRoot, {sans: true, weight: 'normal', fill: '#c22'});
</script>
</body>
</html>
